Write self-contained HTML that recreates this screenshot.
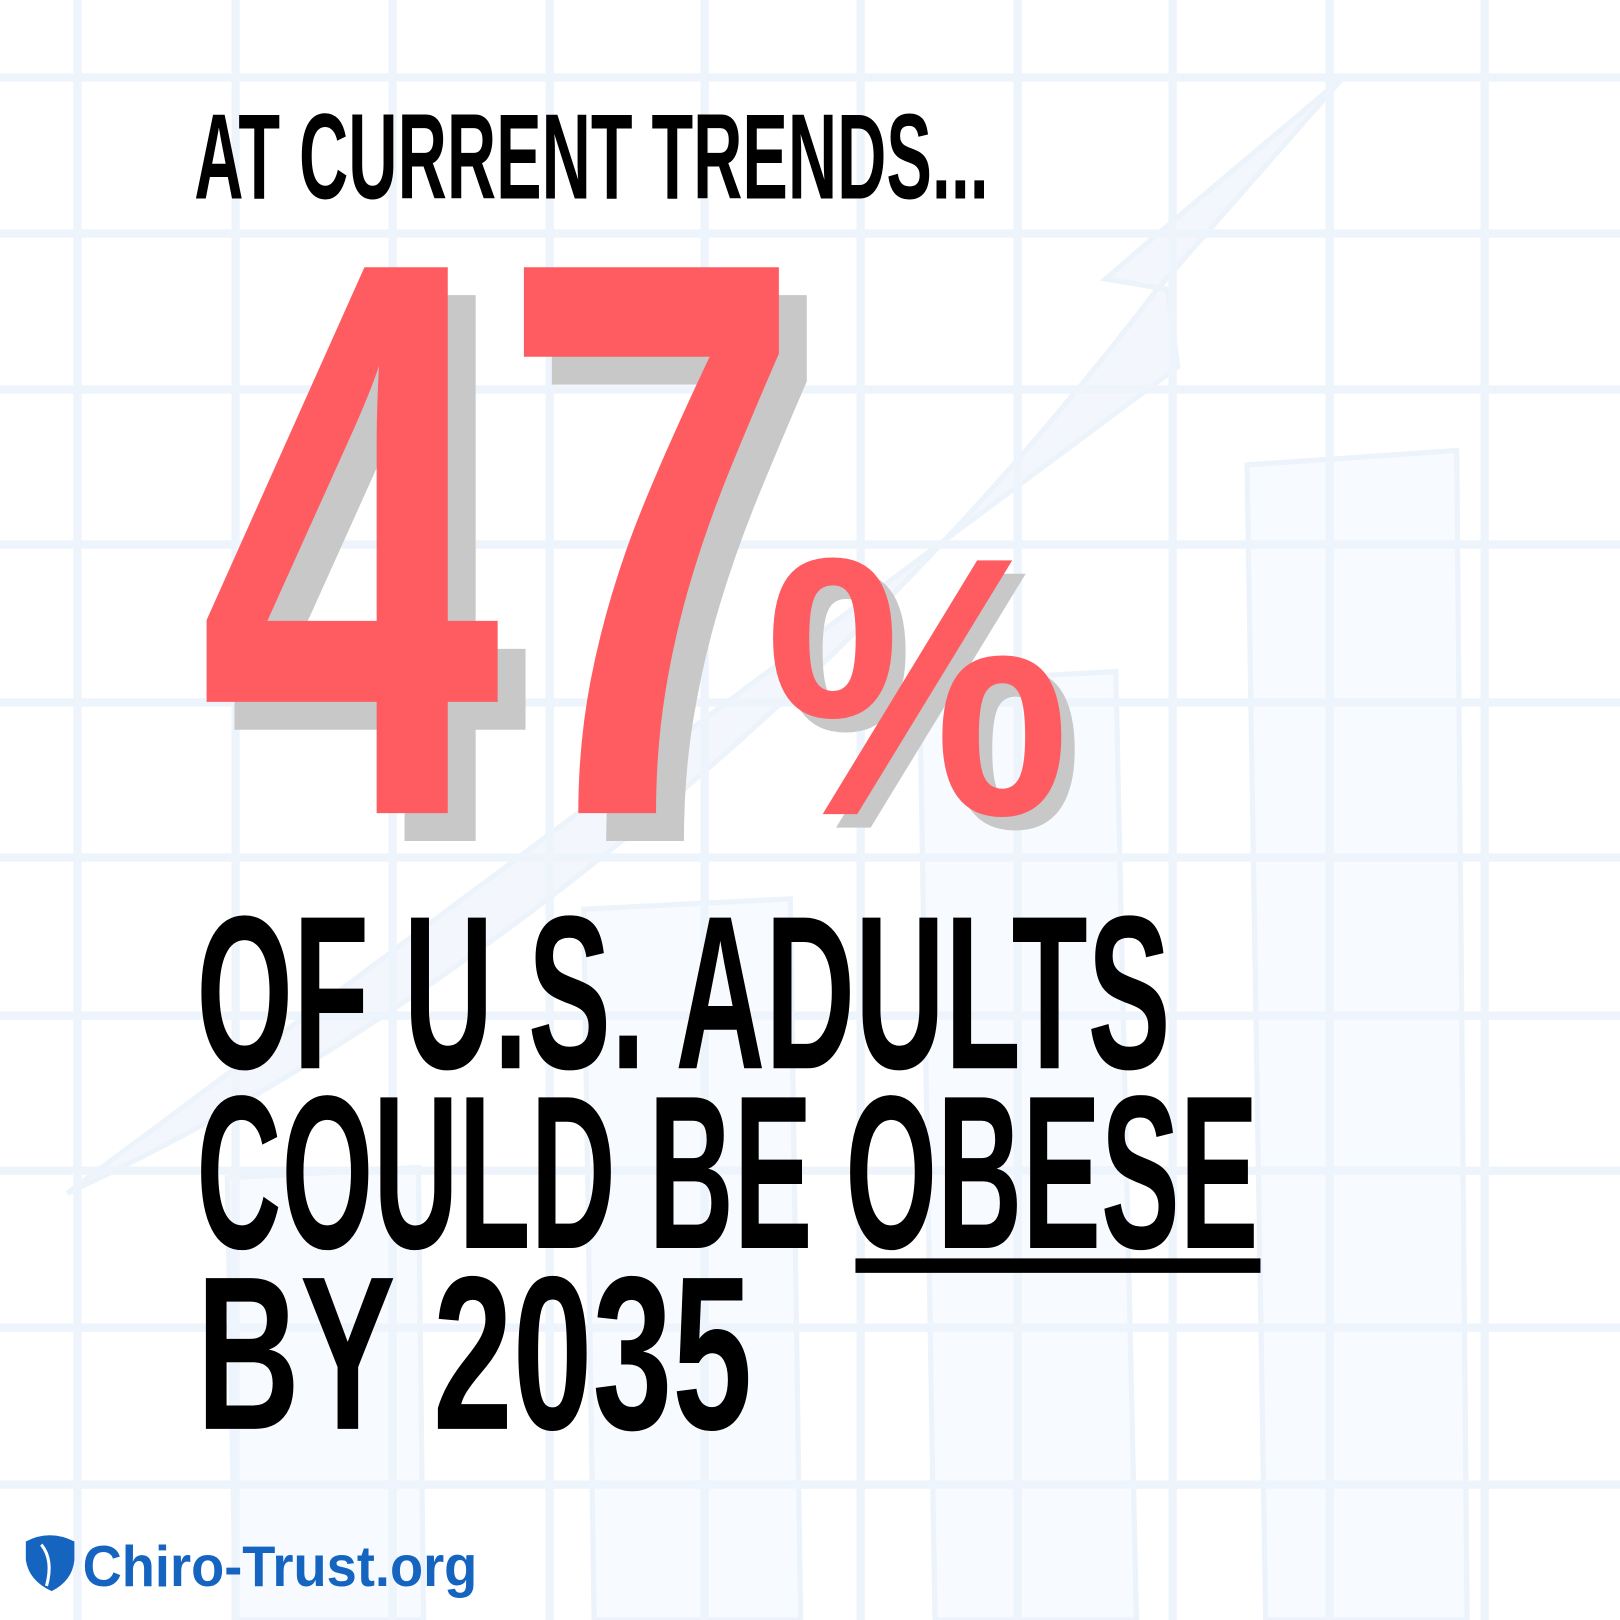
<!DOCTYPE html>
<html><head><meta charset="utf-8"><style>
html,body{margin:0;padding:0;background:#fff;}
svg{display:block;}
text{font-family:"Liberation Sans Narrow","Liberation Sans",sans-serif;font-weight:bold;}
</style></head><body>
<svg width="1620" height="1620" viewBox="0 0 1568 1568" xmlns="http://www.w3.org/2000/svg">
<rect width="1568" height="1568" fill="#fff"/>
<g fill="#f7fafe" stroke="#edf3fb" stroke-width="5">
<path d="M1207 450 L1410 436 L1420 1568 L1225 1568 Z"/>
<path d="M890 660 L1080 650 L1100 1568 L905 1568 Z"/>
<path d="M565 880 L765 870 L775 1568 L575 1568 Z"/>
<path d="M220 1140 L405 1130 L410 1568 L228 1568 Z"/>
</g>
<path d="M65 1155 C 400 1000, 800 700, 1120 280 L1300 75 L1140 210 L1070 270 L1130 280 L1140 355 Z" fill="#f3f7fd" stroke="#edf3fb" stroke-width="5"/>
<g stroke="#eef4fb" stroke-width="8">
<line x1="75" y1="0" x2="75" y2="1568"/><line x1="228" y1="0" x2="228" y2="1568"/>
<line x1="380" y1="0" x2="380" y2="1568"/><line x1="532" y1="0" x2="532" y2="1568"/>
<line x1="682" y1="0" x2="682" y2="1568"/><line x1="833" y1="0" x2="833" y2="1568"/>
<line x1="985" y1="0" x2="985" y2="1568"/><line x1="1135" y1="0" x2="1135" y2="1568"/>
<line x1="1287" y1="0" x2="1287" y2="1568"/><line x1="1437" y1="0" x2="1437" y2="1568"/>
<line y1="75" x1="0" y2="75" x2="1568"/><line y1="226" x1="0" y2="226" x2="1568"/>
<line y1="377" x1="0" y2="377" x2="1568"/><line y1="527" x1="0" y2="527" x2="1568"/>
<line y1="680" x1="0" y2="680" x2="1568"/><line y1="830" x1="0" y2="830" x2="1568"/>
<line y1="983" x1="0" y2="983" x2="1568"/><line y1="1133" x1="0" y2="1133" x2="1568"/>
<line y1="1285" x1="0" y2="1285" x2="1568"/><line y1="1437" x1="0" y2="1437" x2="1568"/>
</g>
<text x="188" y="192" font-size="118" textLength="769" lengthAdjust="spacingAndGlyphs" fill="#000">AT CURRENT TRENDS...</text>
<text x="219" y="814" font-size="768" textLength="585" lengthAdjust="spacingAndGlyphs" fill="#c8c8c8">47</text>
<text x="192" y="787" font-size="768" textLength="585" lengthAdjust="spacingAndGlyphs" fill="#fe5c61">47</text>
<text x="753" y="801" font-size="357" textLength="296" lengthAdjust="spacingAndGlyphs" fill="#c8c8c8">%</text>
<text x="740" y="788" font-size="357" textLength="296" lengthAdjust="spacingAndGlyphs" fill="#fe5c61">%</text>
<text x="190" y="1034" font-size="212" textLength="943" lengthAdjust="spacingAndGlyphs" fill="#000">OF U.S. ADULTS</text>
<text x="190" y="1208" font-size="212" textLength="1028" lengthAdjust="spacingAndGlyphs" fill="#000">COULD BE OBESE</text>
<rect x="828" y="1218" width="392" height="14" fill="#000"/>
<text x="190" y="1383" font-size="212" textLength="538" lengthAdjust="spacingAndGlyphs" fill="#000">BY 2035</text>
<path d="M25 1492 Q48 1480 72 1492 L72 1510 Q70 1530 50 1540 Q28 1530 25 1510 Z" fill="#1565c0"/>
<path d="M40 1495 Q52 1510 45 1535" stroke="#fff" stroke-width="3" fill="none"/>
<text x="80" y="1535" font-size="56" textLength="382" lengthAdjust="spacingAndGlyphs" fill="#1565c0" style="font-family:'Liberation Sans',sans-serif">Chiro-Trust.org</text>
</svg>
</body></html>
